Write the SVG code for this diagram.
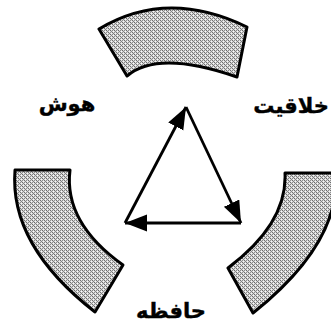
<svg xmlns="http://www.w3.org/2000/svg" width="331" height="326" viewBox="0 0 331 326">
<style>
.sec{fill:url(#dither);stroke:#000;stroke-width:3;stroke-linejoin:round}
.arr{fill:none;stroke:#000;stroke-width:2.8}
.lbl{font-family:"DejaVu Sans","Liberation Sans",sans-serif;font-weight:bold;font-size:21px;text-anchor:middle;fill:#000;stroke:#000;stroke-width:0.4}
</style>
<defs>
<pattern id="dither" width="4" height="4" patternUnits="userSpaceOnUse">
<rect width="4" height="4" fill="#d8d8d8"/>
<rect x="0" y="0" width="1" height="1" fill="#707070"/>
<rect x="2" y="0" width="1" height="1" fill="#909090"/>
<rect x="1" y="1" width="1" height="1" fill="#808080"/>
<rect x="3" y="1" width="1" height="1" fill="#f4f4f4"/>
<rect x="0" y="2" width="1" height="1" fill="#8a8a8a"/>
<rect x="2" y="2" width="1" height="1" fill="#6a6a6a"/>
<rect x="3" y="3" width="1" height="1" fill="#888"/>
<rect x="1" y="3" width="1" height="1" fill="#fafafa"/>
</pattern>
<marker id="ah" markerUnits="userSpaceOnUse" markerWidth="24" markerHeight="18" refX="22" refY="8.5" orient="auto">
<path d="M0,0 L22,8.5 L0,17 z" fill="#000"/>
</marker>
</defs>
<g id="sector-top"><path class="sec" d="M99,29 Q167,-12 247,27 L237,77 Q158,49.5 127,76 Z"/></g>
<g id="sector-left"><path class="sec" d="M15,170 L70,170 Q63.5,222.5 123,265 L95,312 Q9,245 15,170 Z"/></g>
<g id="sector-right"><path class="sec" d="M285,173 L336,173 Q340.5,243.5 253,313 L228,268 Q287.5,223.5 285,173 Z"/></g>
<g id="label-hosh"><text class="lbl" x="67" y="111">هوش</text></g>
<g id="label-khalaghiat"><text class="lbl" x="291" y="113">خلاقیت</text></g>
<g id="label-hafeze"><text class="lbl" x="171" y="318">حافظه</text></g>
<g id="connectors">
<line class="arr" x1="125" y1="223" x2="186" y2="107" marker-end="url(#ah)"/>
<line class="arr" x1="186" y1="107" x2="241" y2="223" marker-end="url(#ah)"/>
<line class="arr" x1="241" y1="223" x2="125" y2="223" marker-end="url(#ah)"/>
</g>
</svg>
